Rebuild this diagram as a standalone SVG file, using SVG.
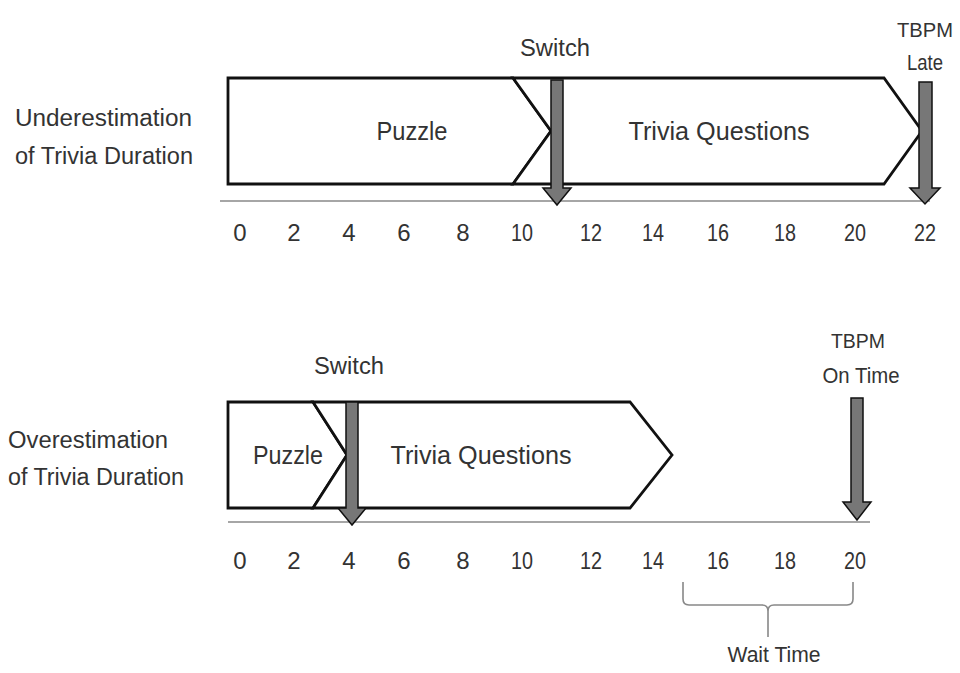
<svg xmlns="http://www.w3.org/2000/svg" width="960" height="673" viewBox="0 0 960 673">
<style>
.t{font-family:"Liberation Sans",Arial,sans-serif;fill:#333;}
.lbl{font-size:23px;}
.num{font-size:24px;text-anchor:middle;}
.big{font-size:26px;text-anchor:middle;}
.mid{font-size:23px;text-anchor:middle;}
.shape{fill:#fff;stroke:#111;stroke-width:2.8;stroke-linejoin:miter;}
.axis{stroke:#888;stroke-width:1.6;fill:none;}
.arrow{fill:#777;stroke:#111;stroke-width:1.5;}
</style>
<rect width="960" height="673" fill="#fff"/>

<!-- Top panel -->
<g id="top-labels">
<text class="t lbl" x="15" y="126" textLength="177" lengthAdjust="spacingAndGlyphs">Underestimation</text>
<text class="t lbl" x="15" y="164" textLength="178" lengthAdjust="spacingAndGlyphs">of Trivia Duration</text>
</g>
<g id="top-puzzle">
<polygon class="shape" points="228,78 513,78 551,131 513,184 228,184"/>
<text class="t big" x="412" y="140" textLength="71" lengthAdjust="spacingAndGlyphs">Puzzle</text>
</g>
<g id="top-trivia">
<polygon class="shape" points="513,78 884,78 922,131 884,184 513,184 551,131"/>
<text class="t big" x="719" y="140" textLength="181" lengthAdjust="spacingAndGlyphs">Trivia Questions</text>
</g>
<g id="top-axis">
<line class="axis" x1="220" y1="201" x2="930" y2="201"/>
<g class="t num">
<text x="240" y="241">0</text><text x="294" y="241">2</text><text x="349" y="241">4</text><text x="404" y="241">6</text><text x="463" y="241">8</text><text x="522" y="241" textLength="22" lengthAdjust="spacingAndGlyphs">10</text><text x="591" y="241" textLength="22" lengthAdjust="spacingAndGlyphs">12</text><text x="653" y="241" textLength="22" lengthAdjust="spacingAndGlyphs">14</text><text x="718" y="241" textLength="22" lengthAdjust="spacingAndGlyphs">16</text><text x="785" y="241" textLength="22" lengthAdjust="spacingAndGlyphs">18</text><text x="855" y="241" textLength="22" lengthAdjust="spacingAndGlyphs">20</text><text x="925" y="241" textLength="22" lengthAdjust="spacingAndGlyphs">22</text>
</g>
</g>
<g id="top-switch">
<polygon class="arrow" points="551,80 563,80 563,188 571,188 557,205 543,188 551,188"/>
<text class="t mid" x="555" y="56" textLength="70" lengthAdjust="spacingAndGlyphs">Switch</text>
</g>
<g id="top-tbpm">
<polygon class="arrow" points="919,82 932,82 932,188 940,188 925,204 910,188 919,188"/>
<text class="t mid" x="925" y="37" style="font-size:21px" textLength="56" lengthAdjust="spacingAndGlyphs">TBPM</text>
<text class="t mid" x="925" y="70" style="font-size:22px" textLength="36" lengthAdjust="spacingAndGlyphs">Late</text>
</g>

<!-- Bottom panel -->
<g id="bottom-labels">
<text class="t lbl" x="8" y="448" textLength="160" lengthAdjust="spacingAndGlyphs">Overestimation</text>
<text class="t lbl" x="8" y="485" textLength="176" lengthAdjust="spacingAndGlyphs">of Trivia Duration</text>
</g>
<g id="bottom-puzzle">
<polygon class="shape" points="228,402 313,402 347,455 313,508 228,508"/>
<text class="t big" x="288" y="464" textLength="70" lengthAdjust="spacingAndGlyphs">Puzzle</text>
</g>
<g id="bottom-trivia">
<polygon class="shape" points="313,402 630,402 672,455 630,508 313,508 347,455"/>
<text class="t big" x="481" y="464" textLength="181" lengthAdjust="spacingAndGlyphs">Trivia Questions</text>
</g>
<g id="bottom-axis">
<line class="axis" x1="228" y1="522" x2="870" y2="522"/>
<g class="t num">
<text x="240" y="569">0</text><text x="294" y="569">2</text><text x="349" y="569">4</text><text x="404" y="569">6</text><text x="463" y="569">8</text><text x="522" y="569" textLength="22" lengthAdjust="spacingAndGlyphs">10</text><text x="591" y="569" textLength="22" lengthAdjust="spacingAndGlyphs">12</text><text x="653" y="569" textLength="22" lengthAdjust="spacingAndGlyphs">14</text><text x="718" y="569" textLength="22" lengthAdjust="spacingAndGlyphs">16</text><text x="785" y="569" textLength="22" lengthAdjust="spacingAndGlyphs">18</text><text x="855" y="569" textLength="22" lengthAdjust="spacingAndGlyphs">20</text>
</g>
</g>
<g id="bottom-switch">
<polygon class="arrow" points="346,402 358,402 358,508 366,508 352,525 338,508 346,508"/>
<text class="t mid" x="349" y="374" textLength="70" lengthAdjust="spacingAndGlyphs">Switch</text>
</g>
<g id="bottom-tbpm">
<polygon class="arrow" points="851,398 863,398 863,502 871,502 857,520 843,502 851,502"/>
<text class="t mid" x="858" y="348" style="font-size:21px" textLength="54" lengthAdjust="spacingAndGlyphs">TBPM</text>
<text class="t mid" x="861" y="383" style="font-size:22px" textLength="77" lengthAdjust="spacingAndGlyphs">On Time</text>
</g>
<g id="wait-time">
<path class="axis" d="M683,582 V599 Q683,605 689,605 H762 Q768,605 768,611 V637 M768,611 Q768,605 774,605 H847 Q853,605 853,599 V582"/>
<text class="t mid" x="774" y="662" style="font-size:22px" textLength="93" lengthAdjust="spacingAndGlyphs">Wait Time</text>
</g>
</svg>
